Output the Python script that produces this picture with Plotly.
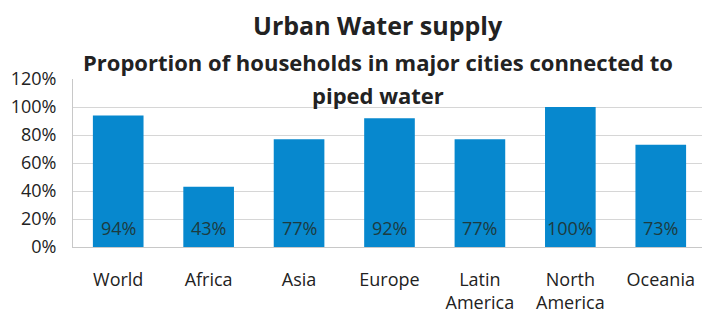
import plotly.graph_objects as go

categories = ["World", "Africa", "Asia", "Europe", "Latin<br>America", "North<br>America", "Oceania"]
values = [94, 43, 77, 92, 77, 100, 73]
value_labels = [f"{v}%" for v in values]
tick_values = [0, 20, 40, 60, 80, 100, 120]
tick_labels = [f"{v}%" for v in tick_values]

title = "Urban Water supply"
subtitle_lines = ["Proportion of households in major cities connected to", "piped water"]

FONT = "Open Sans"
W, H = 702, 315
L, R, T, B = 73, 0, 79, 68

xs = list(range(len(categories)))

fig = go.Figure(go.Bar(
    x=xs, y=values,
    marker=dict(color="#0788CE", line=dict(width=0)),
    width=0.56,
    hoverinfo="skip",
))

fig.update_layout(
    width=W, height=H,
    margin=dict(l=L, r=R, t=T, b=B, autoexpand=False),
    paper_bgcolor="white", plot_bgcolor="white",
    showlegend=False,
    font=dict(family=FONT, size=18, color="#222"),
    yaxis=dict(range=[0, 120], tickvals=tick_values, ticktext=tick_labels,
               showgrid=True, gridcolor="#d6d6d6", gridwidth=1,
               showline=True, linecolor="#c8c8c8", linewidth=1,
               zeroline=False, ticks="", ticklabelstandoff=12, automargin=False,
               tickfont=dict(family=FONT, size=18, color="#222")),
    xaxis=dict(range=[-0.5, 6.456], tickvals=xs, ticktext=categories,
               showline=True, linecolor="#c8c8c8", ticks="", ticklabelstandoff=16,
               automargin=False,
               tickfont=dict(family=FONT, size=18, color="#222")),
)

# value labels at the base of each bar
for xi, lab in zip(xs, value_labels):
    fig.add_annotation(x=xi, y=0, xref="x", yref="y", text=lab, showarrow=False,
                       yanchor="middle", xanchor="center", yshift=19,
                       font=dict(family=FONT, size=18, color="#1d3b3f"))

plot_w = W - L - R
plot_h = H - T - B
def px(xp):
    return (xp - L) / plot_w
def py(yp):
    return (H - B - yp) / plot_h

fig.add_annotation(text=f"<b>{title}</b>", x=px(378), y=py(25), xref="paper", yref="paper",
                   showarrow=False, xanchor="center", yanchor="middle",
                   font=dict(size=25, family=FONT, color="#222"))
fig.add_annotation(text=f"<b>{subtitle_lines[0]}</b>", x=px(378), y=py(62), xref="paper", yref="paper",
                   showarrow=False, xanchor="center", yanchor="middle",
                   font=dict(size=22, family=FONT, color="#222"))
fig.add_annotation(text=f"<b>{subtitle_lines[1]}</b>", x=px(378), y=py(95), xref="paper", yref="paper",
                   showarrow=False, xanchor="center", yanchor="middle",
                   font=dict(size=22, family=FONT, color="#222"))

fig.write_html("out.html", config={"displayModeBar": False},
               post_script="document.body.style.margin='0';")
